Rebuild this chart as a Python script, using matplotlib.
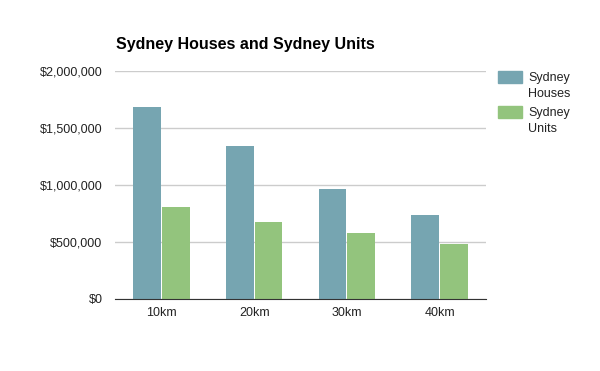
import numpy as np
import matplotlib
matplotlib.use("Agg")
import matplotlib.pyplot as plt
from matplotlib.patches import Rectangle
from matplotlib.ticker import FuncFormatter

distances = ["10km", "20km", "30km", "40km"]
houses = [1685000, 1345000, 965000, 740000]
units = [808000, 676000, 580000, 484000]
series_names = ["Sydney\nHouses", "Sydney\nUnits"]
colors = ['#76a5b1', '#93c47d']

plt.rcParams['font.family'] = ['Liberation Sans', 'DejaVu Sans']

fig = plt.figure(figsize=(6, 3.71), dpi=100)
ax = fig.add_axes([115/600, 1 - 299/371, 371/600, 228/371])

x = np.arange(len(distances))
w = 0.30
ax.bar(x - w/2 - 0.005, houses, w, color=colors[0])
ax.bar(x + w/2 + 0.005, units, w, color=colors[1])

ax.set_xlim(-0.5, len(distances) - 0.5)
ax.set_ylim(0, 2000000)
ax.set_yticks([0, 500000, 1000000, 1500000, 2000000])
ax.yaxis.set_major_formatter(FuncFormatter(lambda v, p: "${:,.0f}".format(v)))
ax.set_xticks(x)
ax.set_xticklabels(distances)
ax.grid(axis='y', color='#cccccc', linewidth=1)
ax.set_axisbelow(True)
for s in ['top', 'right', 'left']:
    ax.spines[s].set_visible(False)
ax.spines['bottom'].set_color('#333333')
ax.tick_params(axis='x', length=0, labelsize=9, colors='#222222', pad=6)
ax.tick_params(axis='y', length=0, labelsize=9, labelcolor='#222222', pad=9)

fig.text(116/600, 1 - 44/371, "Sydney Houses and Sydney Units", fontsize=11.5,
         fontweight='bold', va='center', ha='left', color='#000000')

# legend: swatch lined up with the first line of each label
for i, (name, c) in enumerate(zip(series_names, colors)):
    top = 71 + i * 35
    fig.patches.append(Rectangle((498/600, 1 - (top + 12)/371), 24/600, 12/371,
                                 transform=fig.transFigure, color=c, figure=fig))
    fig.text(528/600, 1 - (top + 1)/371, name, fontsize=9, va='top', ha='left',
             color='#222222', linespacing=1.45)

fig.savefig("out.png", dpi=100)
